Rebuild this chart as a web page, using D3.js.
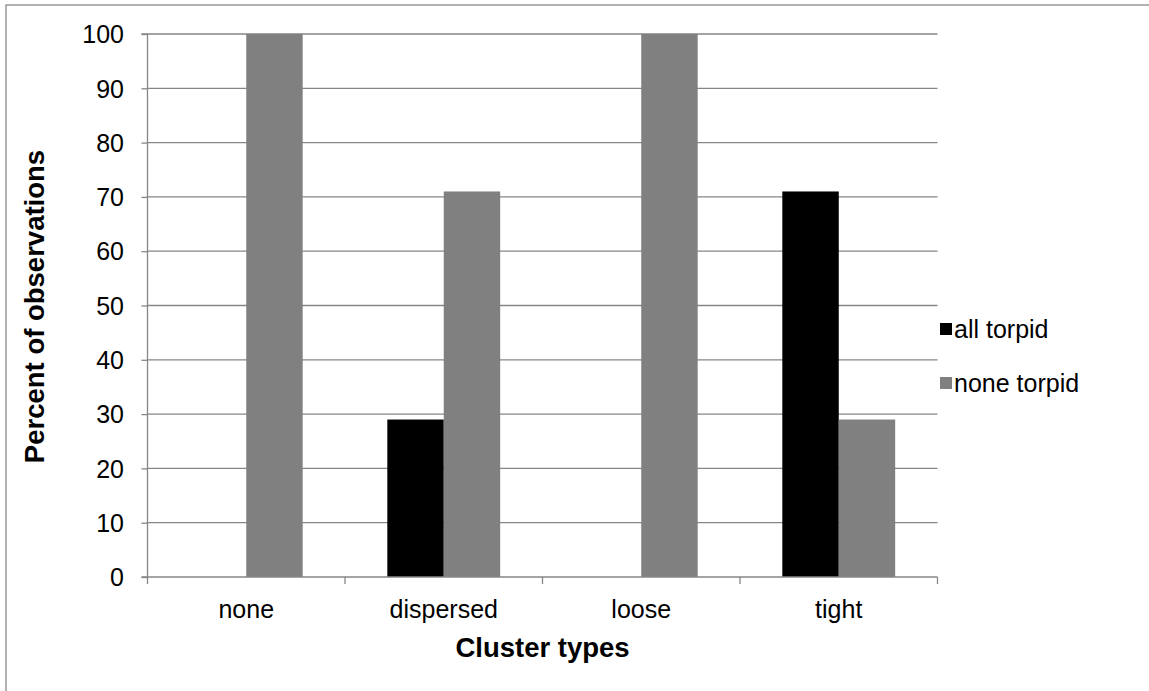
<!DOCTYPE html>
<html><head><meta charset="utf-8">
<script src="https://cdn.jsdelivr.net/npm/d3@7"></script>
<style>body{margin:0;background:#fff}svg{display:block}text{font-family:"Liberation Sans",Arial,sans-serif}</style>
</head><body><svg id="c" width="1149" height="691"></svg>
<script>
const categories = ["none","dispersed","loose","tight"];
const seriesNames = ["all torpid","none torpid"];
const allTorpid = [0,29,0,71];
const noneTorpid = [100,71,100,29];
const yTicks = [0,10,20,30,40,50,60,70,80,90,100];
const colors = ["#000000","#808080"];

const svg = d3.select("#c");
const L=147.5, R=937.5, T=34, B=577;
svg.append("rect").attr("x",6).attr("y",5).attr("width",1160).attr("height",700)
  .attr("fill","none").attr("stroke","#888").attr("stroke-width",1.3);

const x = d3.scaleBand().domain(categories).range([L,R]).paddingInner(0).paddingOuter(0);
const y = d3.scaleLinear().domain([0,100]).range([B,T]);
const bw = x.bandwidth()/3.5;

// gridlines
svg.append("g").selectAll("line").data(yTicks.filter(d=>d>0)).join("line")
  .attr("x1",L).attr("x2",R).attr("y1",d=>y(d)).attr("y2",d=>y(d))
  .attr("stroke","#868686").attr("stroke-width",1.3);

// bars
const series=[allTorpid,noneTorpid];
series.forEach((vals,si)=>{
  svg.append("g").selectAll("rect").data(categories).join("rect")
    .attr("x",(c)=>x(c)+x.bandwidth()/2-bw+si*bw)
    .attr("width",bw)
    .attr("y",(c,i)=>y(vals[i]))
    .attr("height",(c,i)=>B-y(vals[i]))
    .attr("fill",colors[si]);
});

// y axis
const ya = svg.append("g").attr("transform",`translate(${L},0)`)
  .call(d3.axisLeft(y).tickValues(yTicks).tickSize(6).tickPadding(17.5).tickFormat(d3.format("d")));
ya.attr("font-size",null).attr("font-family",null);
ya.select(".domain").attr("stroke","#868686").attr("stroke-width",1.3).attr("d",`M-6,${T}H0V${B}H-6`);
ya.selectAll(".tick line").attr("stroke","#868686").attr("stroke-width",1.3);
ya.selectAll(".tick text").attr("font-size",25).attr("fill","#000").attr("dy","0.35em");

// x axis
const xa = svg.append("g").attr("transform",`translate(0,${B})`);
xa.append("line").attr("x1",L).attr("x2",R).attr("stroke","#868686").attr("stroke-width",1.3);
const bounds = categories.map(c=>x(c)).concat([R]);
xa.selectAll("line.tk").data(bounds).join("line").attr("class","tk")
  .attr("x1",d=>d).attr("x2",d=>d).attr("y1",0).attr("y2",7)
  .attr("stroke","#868686").attr("stroke-width",1.3);
xa.selectAll("text").data(categories).join("text")
  .attr("x",c=>x(c)+x.bandwidth()/2).attr("y",41).attr("text-anchor","middle")
  .attr("font-size",25).attr("fill","#000").text(c=>c);

// titles
svg.append("text").attr("x",L+(R-L)/2).attr("y",657).attr("text-anchor","middle")
  .attr("font-size",27.5).attr("font-weight","bold").text("Cluster types");
svg.append("text").attr("transform",`translate(44,${(T+B)/2+1}) rotate(-90)`).attr("text-anchor","middle")
  .attr("font-size",27.5).attr("font-weight","bold").text("Percent of observations");

// legend
const lg = svg.append("g");
seriesNames.forEach((n,i)=>{
  const cy = 329 + i*54;
  lg.append("rect").attr("x",940).attr("y",cy-6).attr("width",12).attr("height",12).attr("fill",colors[i]);
  lg.append("text").attr("x",954).attr("y",cy+9).attr("font-size",25).attr("fill","#000").text(n);
});
</script></body></html>
